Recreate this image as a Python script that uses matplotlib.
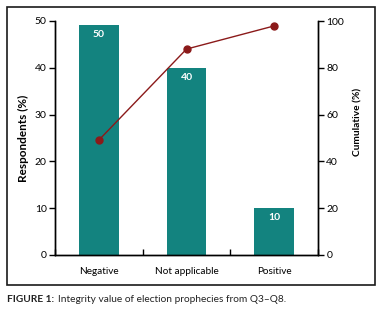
import numpy as np
import matplotlib.pyplot as plt
from matplotlib.patches import Rectangle

categories = ['Negative', 'Not applicable', 'Positive']
respondents = [49.2, 39.9, 10.0]
bar_labels = ['50', '40', '10']
cumulative = [49.1, 88.0, 97.9]

teal = '#13837f'
dark_red = '#8b1a1a'
plt.rcParams['font.family'] = ['Lato', 'DejaVu Sans']

W, H = 385, 313
fig = plt.figure(figsize=(W / 100, H / 100), dpi=100)
ax = fig.add_axes([55 / W, 58 / H, 263 / W, 234 / H])
ax2 = ax.twinx()

x = np.arange(len(categories))
bars = ax.bar(x, respondents, width=0.45, color=teal, zorder=2)
for b, lab in zip(bars, bar_labels):
    ax.text(b.get_x() + b.get_width() / 2, b.get_height() - 2.0, lab,
            ha='center', va='center', color='white', fontsize=7.5, fontweight='bold')

ax2.plot(x, cumulative, color=dark_red, lw=1, marker='o', ms=5, zorder=3)

ax.set_xlim(-0.5, 2.5)
ax.set_ylim(0, 50)
ax2.set_ylim(0, 100)
ax.set_yticks(np.arange(0, 51, 10))
ax2.set_yticks(np.arange(0, 101, 20))
ax.set_xticks(x)
ax.set_xticklabels(categories, fontsize=7.2)
ax.set_xticks([-0.5, 0.5, 1.5, 2.5], minor=True)
ax.tick_params(axis='x', which='major', length=0, pad=9)
ax.tick_params(axis='x', which='minor', length=4, width=1, direction='in')
ax.tick_params(axis='y', labelsize=7.5, length=4, width=1, pad=2)
ax2.tick_params(axis='y', labelsize=7.5, length=4, width=1, pad=2)

for a in (ax, ax2):
    a.spines['top'].set_visible(False)
    for s in ('left', 'right', 'bottom'):
        a.spines[s].set_linewidth(1)

# axis titles placed by hand
fig.text(23 / W, 1 - 138 / H, 'Respondents (%)', rotation=90, ha='center', va='center',
         fontsize=8.5, fontweight='bold')
fig.text(358 / W, 1 - 122 / H, 'Cumulative (%)', rotation=90, ha='center', va='center',
         fontsize=7.3, fontweight='bold')

fig.patches.append(Rectangle((7 / W, 1 - 285 / H), 368 / W, 278 / H,
                             transform=fig.transFigure, fill=False,
                             edgecolor='#1a1a1a', lw=1.2))

t1 = fig.text(7 / W, 1 - 300 / H, 'FIGURE 1:', fontsize=7.3, fontweight='bold',
              va='center', color='#222222')
ax.annotate('Integrity value of election prophecies from Q3\u2013Q8.', xy=(1, 0.5),
            xycoords=t1, xytext=(2.5, 0), textcoords='offset points',
            va='center', fontsize=7.3, color='#222222', annotation_clip=False)

fig.savefig('out.png', dpi=100)
